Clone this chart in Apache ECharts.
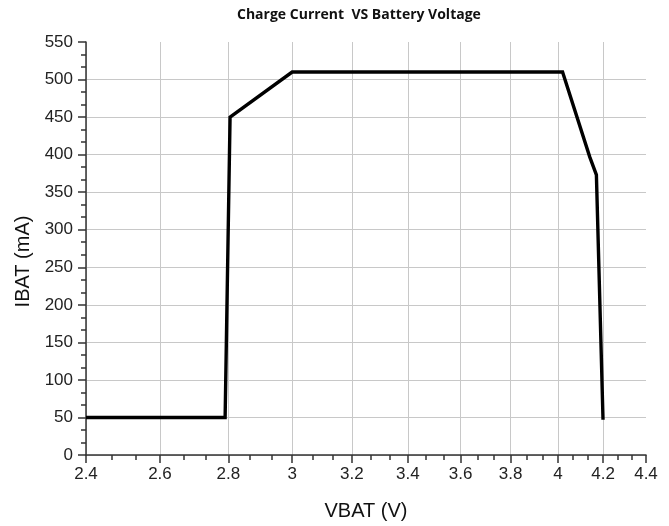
<!DOCTYPE html>
<html>
<head>
<meta charset="utf-8">
<script src="https://cdn.jsdelivr.net/npm/echarts@6/dist/echarts.min.js"></script>
<style>
  html, body { margin: 0; padding: 0; background: #fff; }
  #chart { width: 669px; height: 526px; }
</style>
</head>
<body>
<div id="chart"></div>
<script>
// 曲线数据 (电压 V, 电流 mA)
var vbat = [2.4, 2.79, 2.805, 3.0, 4.02, 4.14, 4.17, 4.2];
var ibat = [50, 50, 450, 510, 510, 397, 373, 47];

// x轴刻度 (对数刻度)
var xTicks = [2.4, 2.6, 2.8, 3.0, 3.2, 3.4, 3.6, 3.8, 4.0, 4.2, 4.4];
var xMinorTicks = [];
for (var i = 0; i < xTicks.length - 1; i++) {
  var step = (xTicks[i + 1] - xTicks[i]) / 3;
  xMinorTicks.push(xTicks[i] + step, xTicks[i] + 2 * step);
}

var chart = echarts.init(document.getElementById('chart'));

var labelFont = { fontFamily: 'Liberation Sans', fontSize: 17, color: '#222' };
var axisColor = '#333';

var option = {
  animation: false,
  title: {
    text: 'Charge Current  VS Battery Voltage',
    left: 232,
    top: 3,
    textStyle: { fontFamily: 'Open Sans', fontWeight: 'bold', fontSize: 14, color: '#111' }
  },
  grid: { left: 86, right: 23, top: 42, bottom: 71 },
  xAxis: [{
    type: 'value',
    min: Math.log(2.4),
    max: Math.log(4.4),
    name: 'VBAT (V)',
    nameLocation: 'middle',
    nameGap: 46,
    nameTextStyle: { fontFamily: 'Liberation Sans', fontSize: 20, color: '#111' },
    axisLine: { show: true, lineStyle: { color: axisColor, width: 1.5 } },
    axisTick: {
      show: true, length: 8,
      customValues: xTicks.map(Math.log),
      lineStyle: { color: axisColor, width: 1.5 }
    },
    axisLabel: {
      margin: 11,
      customValues: xTicks.map(Math.log),
      formatter: function (v) { return String(+Math.exp(v).toFixed(1)); },
      fontFamily: labelFont.fontFamily, fontSize: labelFont.fontSize, color: labelFont.color
    },
    splitLine: { show: true, showMaxLine: false, lineStyle: { color: '#c8c8c8', width: 1 } }
  }, {
    // 次刻度
    type: 'value',
    position: 'bottom',
    min: Math.log(2.4),
    max: Math.log(4.4),
    axisLine: { show: false },
    axisTick: {
      show: true, length: 5,
      customValues: xMinorTicks.map(Math.log),
      lineStyle: { color: axisColor, width: 1.5 }
    },
    axisLabel: { show: false },
    splitLine: { show: false }
  }],
  yAxis: {
    type: 'value',
    min: 0,
    max: 550,
    interval: 50,
    name: 'IBAT (mA)',
    nameLocation: 'middle',
    nameGap: 52,
    nameTextStyle: { fontFamily: 'Liberation Sans', fontSize: 20, color: '#111', padding: [0, 26, 0, 0] },
    axisLine: { show: true, lineStyle: { color: axisColor, width: 1.5 } },
    axisTick: { show: true, length: 8, lineStyle: { color: axisColor, width: 1.5 } },
    minorTick: { show: true, splitNumber: 3, length: 5, lineStyle: { color: axisColor, width: 1.5 } },
    axisLabel: { margin: 13, fontFamily: labelFont.fontFamily, fontSize: labelFont.fontSize, color: labelFont.color },
    splitLine: { show: true, showMaxLine: false, lineStyle: { color: '#c8c8c8', width: 1 } }
  },
  series: [{
    type: 'line',
    xAxisIndex: 0,
    symbol: 'none',
    data: vbat.map(function (v, k) { return [Math.log(v), ibat[k]]; }),
    lineStyle: { color: '#000', width: 3.4, join: 'miter' }
  }]
};

chart.setOption(option);
</script>
</body>
</html>
